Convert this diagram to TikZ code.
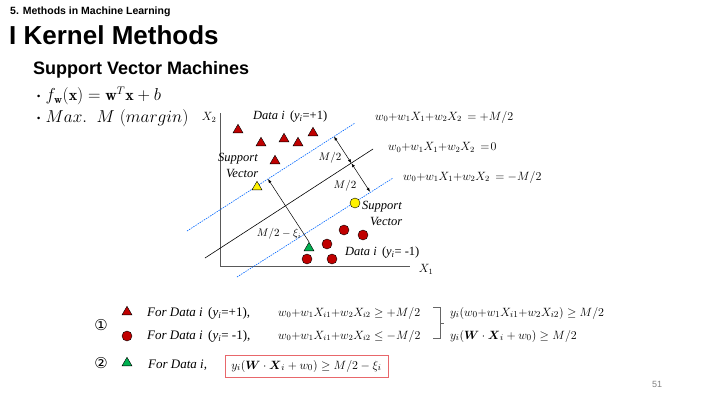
\documentclass[tikz,border=0pt]{standalone}
\usepackage{fontspec}
\usepackage{amsmath}
\usetikzlibrary{arrows.meta,shapes.geometric}
\newfontfamily\hdrfont{Liberation Sans}
\newfontfamily\tms{Liberation Serif}
\newfontfamily\dvs{DejaVu Sans}
\definecolor{dred}{HTML}{C00000}
\definecolor{dgreen}{HTML}{00B050}
\definecolor{boxred}{HTML}{E8676B}
\newcommand\smbul{\raisebox{1.8pt}{\fontsize{9}{10}\selectfont\textbullet}}
\tikzset{
  redtri/.style={regular polygon,regular polygon sides=3,minimum size=11.5pt,inner sep=0pt,fill=dred,draw=black,line width=0.4pt},
  yeltri/.style={redtri,fill=yellow},
  grntri/.style={redtri,fill=dgreen},
  redcirc/.style={circle,minimum size=10pt,inner sep=0pt,fill=dred,draw=black,line width=0.4pt},
  yelcirc/.style={redcirc,fill=yellow},
  lbl/.style={inner sep=0pt,anchor=west,font=\tms\itshape\fontsize{12.5}{14}\selectfont},
  eqn/.style={inner sep=0pt,anchor=west,font=\fontsize{12}{14}\selectfont},
  margin/.style={blue!60!cyan,dashed,dash pattern=on 1.5pt off 1pt,line width=0.6pt},
  arr/.style={line width=0.5pt,-{Latex[length=4pt,width=3pt]}},
  darr/.style={line width=0.5pt,{Latex[length=4pt,width=3pt]}-{Latex[length=4pt,width=3pt]}}
}
\begin{document}
\begin{tikzpicture}[x=1pt,y=-1pt]
\useasboundingbox (0,0) rectangle (720,405);
% headings
\node[inner sep=0pt,anchor=west] (sec) at (10,12) {\hdrfont\bfseries\fontsize{10.5}{12}\selectfont 5. Methods in Machine Learning};
\node[inner sep=0pt,anchor=west] (ttl) at (9,35) {\hdrfont\bfseries\fontsize{26}{29}\selectfont I Kernel Methods};
\node[inner sep=0pt,anchor=west] (sub) at (33,70) {\hdrfont\bfseries\fontsize{18}{20}\selectfont Support Vector Machines};
\node[inner sep=0pt,anchor=west] (b1) at (35,96) {\smbul\ \fontsize{16}{18}\selectfont$f_{\mathbf{w}}(\mathbf{x})=\mathbf{w}^T\mathbf{x}+b$};
\node[inner sep=0pt,anchor=west] (b2) at (35,118) {\smbul\ \fontsize{16}{18}\selectfont$Max.\ \ M\ (margin)$};
% axes
\coordinate (ytop) at (220,113);
\coordinate (org) at (220,266);
\coordinate (xend) at (410,266);
\draw[gray!70!black,line width=0.6pt] (ytop) -- (org) -- (xend);
\node[inner sep=0pt] (x2) at (209,117) {\fontsize{12}{14}\selectfont $X_2$};
\node[inner sep=0pt] (x1) at (426,269) {\fontsize{12}{14}\selectfont $X_1$};
% lines
\coordinate (u1) at (187,231); \coordinate (u2) at (355,123);
\coordinate (s1) at (205,258); \coordinate (s2) at (373,149);
\coordinate (l1) at (237,277); \coordinate (l2) at (393,178);
\draw[margin] (u1) -- (u2);
\draw[line width=0.6pt] (s1) -- (s2);
\draw[margin] (l1) -- (l2);
% arrows
\coordinate (a1) at (334,136.5);
\coordinate (a2) at (351.4,163.2);
\coordinate (a3) at (370,191.8);
\draw[darr] (a1) -- (a2);
\draw[darr] (a2) -- (a3);
\node[inner sep=0pt] (m1) at (330,158) {\fontsize{11}{13}\selectfont $M/2$};
\node[inner sep=0pt] (m2) at (345,186) {\fontsize{11}{13}\selectfont $M/2$};
% points
\node[redtri] (t1) at (238,130) {};
\node[redtri] (t2) at (261,143) {};
\node[redtri] (t3) at (284,139) {};
\node[redtri] (t4) at (298,143) {};
\node[redtri] (t5) at (313,133) {};
\node[redtri] (t6) at (275,161) {};
\node[yeltri] (ty) at (257,187) {};
\node[grntri] (tg) at (309,248) {};
\node[redcirc] (c1) at (344,230) {};
\node[redcirc] (c2) at (363,235) {};
\node[redcirc] (c3) at (327,244) {};
\node[redcirc] (c4) at (307,259) {};
\node[redcirc] (c5) at (332,259) {};
\node[yelcirc] (cy) at (355,203) {};
\coordinate (au) at (268,179);
\draw[arr] (tg.north) -- (au);
\node[inner sep=0pt] (mx) at (279,234) {\fontsize{10.5}{12}\selectfont $M/2-\xi_i$};
% labels
\node[lbl] (dp) at (253,117) {Data i\, \upshape(\textit{y}\textsubscript{\textit{i}}=+1)};
\node[lbl] (sv1) at (218,159) {Support};
\node[lbl] (sv2) at (226,173) {Vector};
\node[lbl] (sv3) at (362,207) {Support};
\node[lbl] (sv4) at (370,221) {Vector};
\node[lbl] (dm) at (345,253) {Data i\, \upshape(\textit{y}\textsubscript{\textit{i}}= -1)};
\node[eqn] (e1) at (375,117) {$w_0{+}w_1X_1{+}w_2X_2\,=+M/2$};
\node[eqn] (e2) at (388,147) {$w_0{+}w_1X_1{+}w_2X_2\,=\!0$};
\node[eqn] (e3) at (403,177) {$w_0{+}w_1X_1{+}w_2X_2\,=-M/2$};
% bottom
\node[inner sep=0pt] (n1) at (101,325) {\dvs\fontsize{15}{17}\selectfont ①};
\node[inner sep=0pt] (n2) at (101,363) {\dvs\fontsize{15}{17}\selectfont ②};
\node[redtri] (bt1) at (127,312) {};
\node[redcirc] (bc1) at (127,336) {};
\node[grntri] (bt2) at (127,363) {};
\node[lbl,font=\tms\itshape\fontsize{13}{15}\selectfont] (f1) at (147,313) {For Data i\, \upshape(\textit{y}\textsubscript{\textit{i}}=+1),};
\node[lbl,font=\tms\itshape\fontsize{13}{15}\selectfont] (f2) at (147,336) {For Data i\, \upshape(\textit{y}\textsubscript{\textit{i}}= -1),};
\node[lbl,font=\tms\itshape\fontsize{13}{15}\selectfont] (f3) at (148,365) {For Data i,};
\node[eqn] (g1) at (278,313) {$w_0{+}w_1X_{i1}{+}w_2X_{i2}\ge +M/2$};
\node[eqn] (g2) at (278,336) {$w_0{+}w_1X_{i1}{+}w_2X_{i2}\le -M/2$};
\coordinate (br1) at (433,307);
\coordinate (br2) at (440,307);
\coordinate (br3) at (440,338);
\coordinate (br4) at (433,338);
\coordinate (bm1) at (440,323);
\coordinate (bm2) at (444,323);
\draw[gray!80!black,line width=0.5pt] (br1) -- (br2) -- (br3) -- (br4);
\draw[gray!80!black,line width=0.5pt] (bm1) -- (bm2);
\node[eqn,font=\fontsize{12.3}{14}\selectfont] (h1) at (450,313) {$y_i(w_0{+}w_1X_{i1}{+}w_2X_{i2})\ge M/2$};
\node[eqn,font=\fontsize{12.3}{14}\selectfont] (h2) at (450,336) {$y_i(\boldsymbol{W}\cdot\boldsymbol{X}_i+w_0)\ge M/2$};
\node[draw=boxred,line width=0.8pt,minimum width=163pt,minimum height=22pt,inner sep=2pt] (bx) at (306.5,366) {\fontsize{12.3}{14}\selectfont $y_i(\boldsymbol{W}\cdot\boldsymbol{X}_i+w_0)\ge M/2-\xi_i$};
\node[inner sep=0pt,text=gray] (pg) at (657,384) {\hdrfont\fontsize{9}{10}\selectfont 51};
\end{tikzpicture}
\end{document}
